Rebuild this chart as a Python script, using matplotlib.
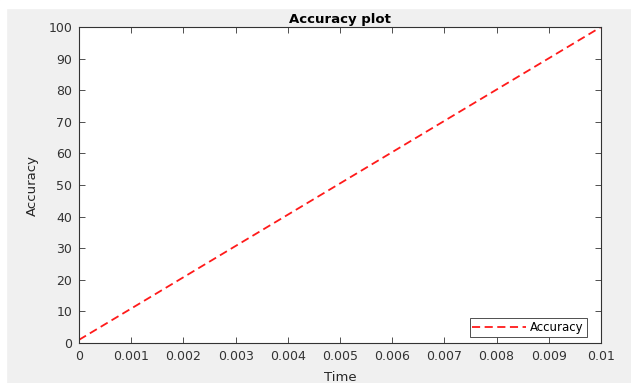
import matplotlib
matplotlib.use("Agg")
import matplotlib.pyplot as plt
from matplotlib.patches import Rectangle

time = [0, 0.01]
accuracy = [1, 100]
xticks = [0, 0.001, 0.002, 0.003, 0.004, 0.005, 0.006, 0.007, 0.008, 0.009, 0.01]
xlabels = ["0", "0.001", "0.002", "0.003", "0.004", "0.005", "0.006", "0.007", "0.008", "0.009", "0.01"]
yticks = list(range(0, 101, 10))

plt.rcParams["font.family"] = ["DejaVu Sans"]
plt.rcParams["font.size"] = 9

fig = plt.figure(figsize=(6.31, 3.83), dpi=100, facecolor="#f0f0f0")
# white strip round the top/left edge of the screenshot
fig.patches.append(Rectangle((0, 0), 6 / 631, 1, transform=fig.transFigure, color="white", zorder=-1))
fig.patches.append(Rectangle((0, 1 - 8 / 383), 1, 8 / 383, transform=fig.transFigure, color="white", zorder=-1))

ax = fig.add_axes([79 / 631, 1 - 343 / 383, 522 / 631, 316 / 383])
ax.set_facecolor("white")
ax.plot(time, accuracy, "--", color="#ff1a1a", linewidth=1.3, dashes=(4.5, 2.5), label="Accuracy")

ax.set_xlim(0, 0.01)
ax.set_ylim(0, 100)
ax.set_xticks(xticks)
ax.set_xticklabels(xlabels)
ax.set_yticks(yticks)
ax.tick_params(direction="in", top=True, right=True, length=4, width=0.6, colors="#333333", labelsize=9, pad=5)
for s in ax.spines.values():
    s.set_color("#333333")
    s.set_linewidth(0.8)

ax.set_title("Accuracy plot", fontsize=9.5, fontweight="bold", pad=3)
ax.set_xlabel("Time", fontsize=9.5, labelpad=6, color="#262626")
ax.set_ylabel("Accuracy", fontsize=9.5, labelpad=7, color="#262626")

leg = ax.legend(loc="lower right", fontsize=8.5, fancybox=False, framealpha=1,
                edgecolor="#333333", handlelength=4.5, handletextpad=0.4,
                borderpad=0.25, borderaxespad=0, bbox_to_anchor=(0.973, 0.02))
leg.get_frame().set_linewidth(0.6)

fig.savefig("out.png", dpi=100, facecolor=fig.get_facecolor())
